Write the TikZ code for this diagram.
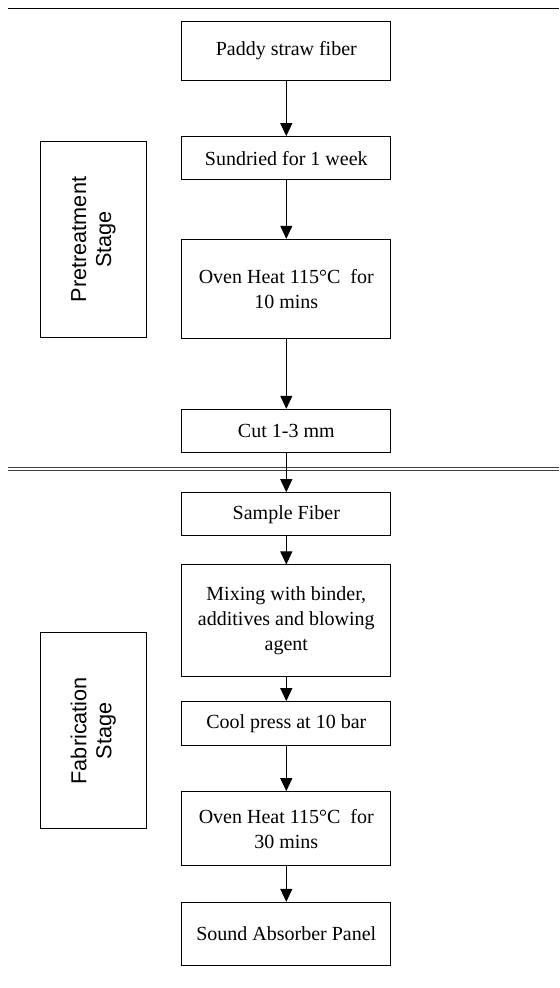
\documentclass[tikz,border=0pt]{standalone}
\usepackage{fontspec}
\setmainfont{Liberation Serif}
\setsansfont{Liberation Sans}
\usetikzlibrary{arrows.meta}

\begin{document}
\begin{tikzpicture}[x=0.6pt,y=-0.6pt,
  stepbox/.style={draw,line width=0.6pt,minimum width=125.4pt,align=center,inner sep=2pt,font=\fontsize{12}{15}\selectfont},
  stagebox/.style={draw,line width=0.6pt,minimum width=117.4pt,minimum height=63.5pt,rotate=90,align=center,font=\fontsize{13}{15}\selectfont\sffamily},
  flow/.style={line width=0.6pt,-{Triangle[length=7.8pt,width=7.2pt]}}]
\useasboundingbox (0,0) rectangle (559,988);

\draw[line width=0.6pt] (7.8,9) -- (559,9);
\draw[line width=0.5pt,black!75,double,double distance=1.2pt] (7.8,469) -- (559,469);

\node[stepbox,minimum height=35.2pt] (1) at (286.3,50.7) {Paddy straw fiber};
\node[stepbox,minimum height=26pt] (2) at (286.3,158.3) {Sundried for 1 week};
\node[stepbox,minimum height=59.4pt] (3) at (286.3,288.8) {Oven Heat 115°C\ \ for\\10 mins};
\node[stepbox,minimum height=25.8pt] (4) at (286.3,430.8) {Cut 1-3 mm};
\node[stepbox,minimum height=25.8pt] (5) at (286.3,514.2) {Sample Fiber};
\node[stepbox,minimum height=67pt] (6) at (286.3,620.8) {Mixing with binder,\\additives and blowing\\agent};
\node[stepbox,minimum height=26.6pt] (7) at (286.3,723.8) {Cool press at 10 bar};
\node[stepbox,minimum height=44.6pt] (8) at (286.3,828.8) {Oven Heat 115°C\ \ for\\30 mins};
\node[stepbox,minimum height=37.6pt] (9) at (286.3,933.7) {Sound Absorber Panel};

\node[stagebox] (A) at (93.3,239.5) {Pretreatment\\Stage};
\node[stagebox] (B) at (93.3,730.7) {Fabrication\\Stage};

\draw[flow] (1) -- (2);
\draw[flow] (2) -- (3);
\draw[flow] (3) -- (4);
\draw[flow] (4) -- (5);
\draw[flow] (5) -- (6);
\draw[flow] (6) -- (7);
\draw[flow] (7) -- (8);
\draw[flow] (8) -- (9);

\end{tikzpicture}
\end{document}
